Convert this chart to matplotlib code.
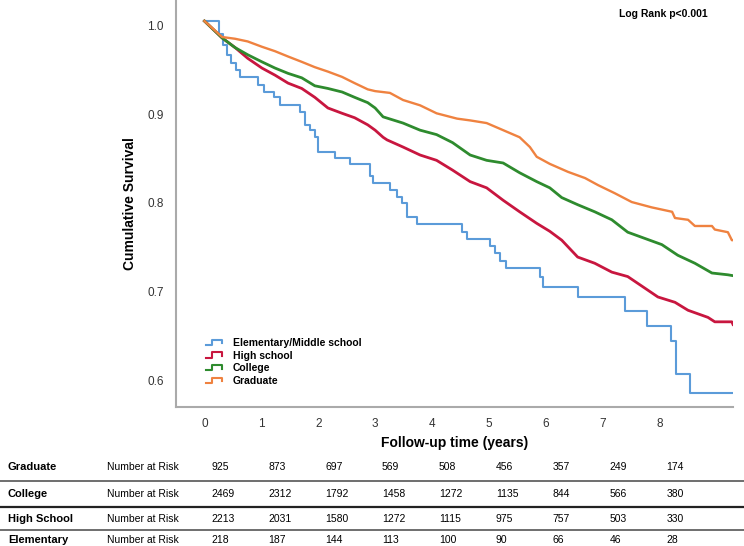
import numpy as np
import matplotlib
matplotlib.use("Agg")
import matplotlib.pyplot as plt
from matplotlib.legend_handler import HandlerBase
from matplotlib.lines import Line2D
from matplotlib.transforms import blended_transform_factory

plt.rcParams['font.family'] = ['Liberation Sans', 'DejaVu Sans']

# Kaplan-Meier curves (time in years, cumulative survival)
elem_t = [0, 0.26, 0.33, 0.40, 0.47, 0.55, 0.62, 0.94, 1.05, 1.23, 1.33, 1.68, 1.77, 1.86, 1.94,
          2.00, 2.29, 2.56, 2.91, 2.97, 3.26, 3.38, 3.47, 3.56, 3.73, 4.53, 4.62, 5.02, 5.10,
          5.20, 5.30, 5.90, 5.95, 6.57, 7.39, 7.78, 8.20, 8.29, 8.53, 9.29]
elem_s = [1.0, 0.985, 0.973, 0.962, 0.953, 0.945, 0.937, 0.928, 0.920, 0.914, 0.905, 0.897, 0.883,
          0.877, 0.869, 0.852, 0.846, 0.839, 0.825, 0.817, 0.810, 0.802, 0.795, 0.779, 0.771,
          0.762, 0.754, 0.746, 0.738, 0.730, 0.722, 0.711, 0.700, 0.689, 0.673, 0.656, 0.639,
          0.602, 0.581, 0.581]

high_t = [0, 0.31, 0.54, 0.76, 1.01, 1.24, 1.47, 1.71, 1.94, 2.17, 2.42, 2.64, 2.87, 3.0,
          3.14, 3.21, 3.49, 3.79, 4.08, 4.36, 4.67, 4.96, 5.25, 5.54, 5.84, 6.07, 6.28, 6.56,
          6.86, 7.16, 7.44, 7.74, 7.97, 8.27, 8.50, 8.85, 8.97, 9.27, 9.29]
high_s = [1.0, 0.981, 0.970, 0.958, 0.947, 0.939, 0.930, 0.924, 0.914, 0.902, 0.896, 0.891, 0.883,
          0.877, 0.869, 0.866, 0.858, 0.849, 0.843, 0.832, 0.819, 0.812, 0.798, 0.785,
          0.772, 0.763, 0.753, 0.734, 0.727, 0.717, 0.712, 0.699, 0.689, 0.683, 0.674, 0.666,
          0.661, 0.661, 0.658]

coll_t = [0, 0.31, 0.54, 0.76, 1.01, 1.24, 1.47, 1.71, 1.94, 2.17, 2.42, 2.64, 2.87, 3.0, 3.14,
          3.49, 3.79, 4.08, 4.36, 4.67, 4.96, 5.25, 5.54, 5.84, 6.07, 6.28, 6.56, 6.86, 7.16,
          7.44, 7.74, 8.04, 8.32, 8.62, 8.92, 9.20, 9.29]
coll_s = [1.0, 0.981, 0.970, 0.962, 0.954, 0.947, 0.941, 0.936, 0.927, 0.924, 0.920, 0.914, 0.908,
          0.902, 0.892, 0.885, 0.877, 0.872, 0.863, 0.849, 0.843, 0.840, 0.829, 0.819, 0.812,
          0.801, 0.793, 0.785, 0.776, 0.762, 0.755, 0.748, 0.736, 0.727, 0.716, 0.714, 0.713]

grad_t = [0, 0.31, 0.54, 0.76, 1.01, 1.24, 1.47, 1.71, 1.94, 2.17, 2.42, 2.64, 2.87, 3.0, 3.26,
          3.49, 3.79, 4.08, 4.44, 4.67, 4.96, 5.25, 5.54, 5.72, 5.84, 6.07, 6.39, 6.69, 6.92,
          7.21, 7.51, 7.86, 8.22, 8.27, 8.50, 8.62, 8.92, 8.97, 9.20, 9.27, 9.29]
grad_s = [1.0, 0.982, 0.980, 0.977, 0.971, 0.966, 0.960, 0.954, 0.948, 0.943, 0.937, 0.930, 0.923,
          0.921, 0.919, 0.911, 0.905, 0.896, 0.890, 0.888, 0.885, 0.877, 0.869, 0.858, 0.847,
          0.839, 0.830, 0.823, 0.815, 0.806, 0.796, 0.790, 0.785, 0.778, 0.776, 0.769, 0.769,
          0.765, 0.762, 0.753, 0.753]

# Number-at-risk table
risk_times = [0, 1, 2, 3, 4, 5, 6, 7, 8]
risk_groups = ['Graduate', 'College', 'High School', 'Elementary']
risk_graduate = [925, 873, 697, 569, 508, 456, 357, 249, 174]
risk_college = [2469, 2312, 1792, 1458, 1272, 1135, 844, 566, 380]
risk_high = [2213, 2031, 1580, 1272, 1115, 975, 757, 503, 330]
risk_elem = [218, 187, 144, 113, 100, 90, 66, 46, 28]

COLORS = {'elem': '#5B9BD9', 'high': '#C8163F', 'coll': '#2E8B2E', 'grad': '#EF8240'}


class StepHandler(HandlerBase):
    # little step glyph like the SPSS legend
    def create_artists(self, legend, orig_handle, xdescent, ydescent, width, height, fontsize, trans):
        xs = np.array([0.0, 0.35, 0.35, 1.0, 1.0]) * width - xdescent
        ys = np.array([0.1, 0.1, 0.85, 0.85, 0.35]) * height - ydescent
        ln = Line2D(xs, ys, color=orig_handle.get_color(), lw=1.5)
        ln.set_transform(trans)
        return [ln]


fig = plt.figure(figsize=(7.44, 5.46), dpi=100)
ax = fig.add_axes([176 / 744, 1 - 407 / 546, 557 / 744, 407 / 546])

l1, = ax.plot(elem_t, elem_s, drawstyle='steps-post', color=COLORS['elem'], lw=1.5,
              label='Elementary/Middle school')
l2, = ax.plot(high_t, high_s, color=COLORS['high'], lw=2.0, label='High school')
l3, = ax.plot(coll_t, coll_s, color=COLORS['coll'], lw=2.0, label='College')
l4, = ax.plot(grad_t, grad_s, color=COLORS['grad'], lw=1.7, label='Graduate')

ax.set_xlim(-0.5, 9.29)
ax.set_ylim(0.565, 1.0237)
ax.set_xticks(risk_times)
ax.set_yticks([0.6, 0.7, 0.8, 0.9, 1.0])
ax.set_yticklabels(['0.6', '0.7', '0.8', '0.9', '1.0'])
ax.tick_params(length=0, labelsize=8.5, colors='#333333')
ax.tick_params(axis='x', pad=8)
ax.tick_params(axis='y', pad=9)
for lab in ax.get_yticklabels():
    lab.set_verticalalignment('top')

for side in ['top', 'right']:
    ax.spines[side].set_visible(False)
for side in ['left', 'bottom']:
    ax.spines[side].set_color('#aaaaaa')
    ax.spines[side].set_linewidth(1.5)

ax.set_xlabel('Follow-up time (years)', fontsize=10, fontweight='bold', labelpad=4)
ax.set_ylabel('Cumulative Survival', fontsize=10, fontweight='bold', labelpad=7)

ax.legend(handles=[l1, l2, l3, l4], loc='upper left', bbox_to_anchor=(0.046, 0.18),
          frameon=False, prop={'size': 7.5, 'weight': 'bold'}, handlelength=1.6,
          handleheight=0.7, handletextpad=1.0, labelspacing=0.25, borderaxespad=0,
          handler_map={Line2D: StepHandler()})

fig.text(663 / 744, 1 - 14 / 546, 'Log Rank p<0.001', ha='center', va='center',
         fontsize=7.5, fontweight='bold')

# number-at-risk table under the plot
row_y = [467, 494, 519, 540]
rows = [risk_graduate, risk_college, risk_high, risk_elem]
tr = blended_transform_factory(ax.transData, fig.transFigure)
for name, counts, py in zip(risk_groups, rows, row_y):
    yf = 1 - py / 546
    fig.text(8 / 744, yf, name, ha='left', va='center', fontsize=8, fontweight='bold')
    fig.text(107 / 744, yf, 'Number at Risk', ha='left', va='center', fontsize=7.5)
    for t, n in zip(risk_times, counts):
        ax.text(t + 0.12, yf, str(n), transform=tr, ha='left', va='center', fontsize=7.5,
                clip_on=False)

for py, col, lw in [(481, '#555555', 1.2), (507, '#222222', 1.6), (530, '#555555', 1.2)]:
    fig.add_artist(Line2D([0, 1], [1 - py / 546] * 2, transform=fig.transFigure, color=col, lw=lw))

fig.savefig('out.png', dpi=100)
